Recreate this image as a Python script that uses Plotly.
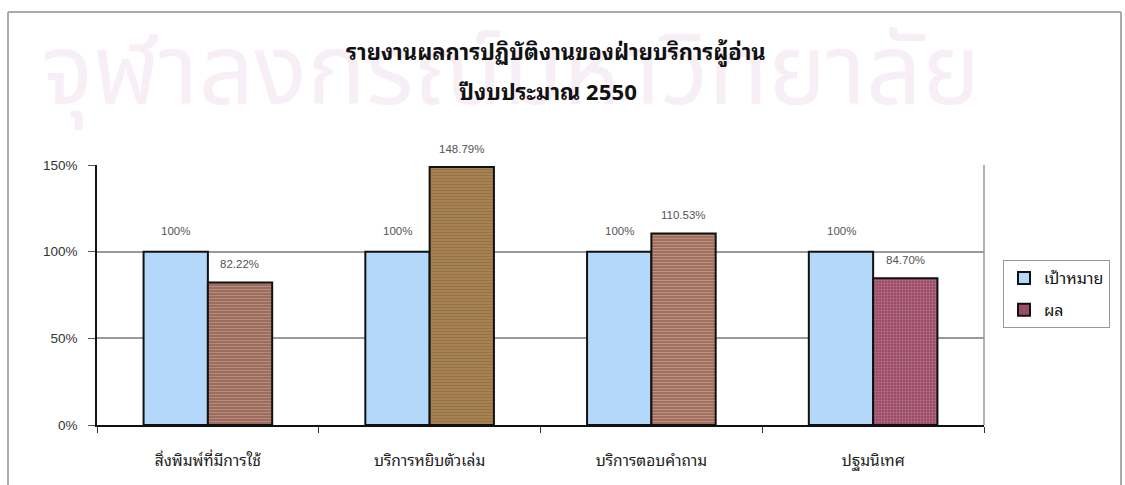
import plotly.graph_objects as go

# Service-unit performance, fiscal year 2550 (B.E.)
categories = ["สิ่งพิมพ์ที่มีการใช้", "บริการหยิบตัวเล่ม", "บริการตอบคำถาม", "ปฐมนิเทศ"]
target_values = [100, 100, 100, 100]
result_values = [82.22, 148.79, 110.53, 84.70]
series_names = ["เป้าหมาย", "ผล"]
y_tick_values = [0, 50, 100, 150]
y_tick_labels = ["0%", "50%", "100%", "150%"]

title_line1 = "รายงานผลการปฏิบัติงานของฝ่ายบริการผู้อ่าน"
title_line2 = "ปีงบประมาณ 2550"
watermark = "จุฬาลงกรณ์มหาวิทยาลัย"

TARGET_COLOR = "#B4D8FA"
RESULT_COLORS = ["#9E6B5C", "#A8814F", "#A3705E", "#9C4C66"]
RESULT_PATTERN = ["#8A5A4C", "#8E6C40", "#8D5E4E", "#873E57"]
RESULT_SHAPES = ["-", "-", "-", "+"]

LATIN = "Liberation Sans, Arial, sans-serif"
THAI = "Noto Sans Thai Looped, Noto Serif Thai, Noto Sans Thai, Loma, Tahoma, Noto Sans, sans-serif"
MARK = "Noto Sans Thai, Noto Sans, sans-serif"

W, H = 1125, 485
L, R, T, B = 97, 141, 165, 60

fig = go.Figure()

fig.add_trace(go.Bar(
    x=categories, y=target_values, name=series_names[0], offsetgroup="t",
    marker=dict(color=TARGET_COLOR, line=dict(color="#111111", width=2)),
    showlegend=False, hoverinfo="skip",
))
fig.add_trace(go.Bar(
    x=categories, y=result_values, name=series_names[1], offsetgroup="r",
    marker=dict(color=RESULT_COLORS, line=dict(color="#111111", width=2),
                pattern=dict(shape=RESULT_SHAPES, fgcolor=RESULT_PATTERN,
                             fgopacity=0.25, size=3, solidity=0.3)),
    showlegend=False, hoverinfo="skip",
))

# legend swatches share the offset groups so they do not shift the bars
fig.add_trace(go.Bar(x=[None], y=[None], name=series_names[0], offsetgroup="t",
                     legendgroup="a",
                     marker=dict(color=TARGET_COLOR, line=dict(color="#111111", width=2))))
fig.add_trace(go.Bar(x=[None], y=[None], name=series_names[1], offsetgroup="r",
                     legendgroup="b",
                     marker=dict(color=RESULT_COLORS[-1], line=dict(color="#111111", width=2))))

# value labels above the bars
annotations = []
for cat, v in zip(categories, target_values):
    annotations.append(dict(x=cat, y=v, xref="x", yref="y", text=f"{v:.0f}%",
                            showarrow=False, xshift=-32, yshift=21,
                            font=dict(family=LATIN, size=11.5, color="#555555")))
for cat, v in zip(categories, result_values):
    annotations.append(dict(x=cat, y=v, xref="x", yref="y", text=f"{v:.2f}%",
                            showarrow=False, xshift=32, yshift=18,
                            font=dict(family=LATIN, size=11.5, color="#555555")))

pw = W - L - R
ph = H - T - B
def px(x):
    return (x - L) / pw
def py(y):
    return (H - B - y) / ph

annotations.append(dict(x=px(510), y=py(74), xref="paper", yref="paper", text=watermark,
                        showarrow=False, font=dict(family=MARK, size=98, color="#F8EFF6"),
                        xanchor="center", yanchor="middle"))
annotations.append(dict(x=px(556), y=py(50), xref="paper", yref="paper",
                        text=f"<b>{title_line1}</b>", showarrow=False,
                        xanchor="center", yanchor="middle",
                        font=dict(family=THAI, size=22, color="#111111")))
annotations.append(dict(x=px(548), y=py(90), xref="paper", yref="paper",
                        text=f"<b>{title_line2}</b>", showarrow=False,
                        xanchor="center", yanchor="middle",
                        font=dict(family=THAI, size=22, color="#111111")))

shapes = [
    # outer chart frame
    dict(type="line", xref="paper", yref="paper", x0=px(8), x1=px(1121), y0=py(12), y1=py(12),
         line=dict(color="#AAAAAA", width=2), layer="below"),
    dict(type="line", xref="paper", yref="paper", x0=px(8), x1=px(8), y0=py(12), y1=py(486),
         line=dict(color="#AAAAAA", width=2), layer="below"),
    dict(type="line", xref="paper", yref="paper", x0=px(1121), x1=px(1121), y0=py(12), y1=py(486),
         line=dict(color="#AAAAAA", width=2), layer="below"),
    # right edge of the plot area
    dict(type="line", xref="paper", yref="paper", x0=1, x1=1, y0=0, y1=1,
         line=dict(color="#999999", width=1.5), layer="below"),
]

fig.update_layout(
    width=W, height=H,
    margin=dict(l=L, r=R, t=T, b=B, pad=0),
    paper_bgcolor="white", plot_bgcolor="white",
    barmode="group", bargap=0.42, bargroupgap=0,
    annotations=annotations, shapes=shapes,
    legend=dict(x=px(1003), y=py(260), xanchor="left", yanchor="top",
                bgcolor="white", bordercolor="#999999", borderwidth=1,
                font=dict(family=THAI, size=16, color="#111111"),
                itemwidth=30, tracegroupgap=8),
    xaxis=dict(showgrid=False, showline=True, linecolor="#111111", linewidth=1.5,
               ticks="outside", tickson="boundaries", ticklen=6, tickcolor="#333333",
               tickfont=dict(family=THAI, size=15.5, color="#222222"),
               ticklabelstandoff=21, fixedrange=True),
    yaxis=dict(range=[0, 150], tickvals=y_tick_values, ticktext=y_tick_labels,
               showgrid=True, gridcolor="#999999", gridwidth=1.5,
               showline=True, linecolor="#111111", linewidth=1.5,
               ticks="outside", ticklen=7, tickcolor="#555555",
               tickfont=dict(family=LATIN, size=13.5, color="#333333"),
               ticklabelstandoff=8, zeroline=False, fixedrange=True),
)

fig.write_html("out.html")
